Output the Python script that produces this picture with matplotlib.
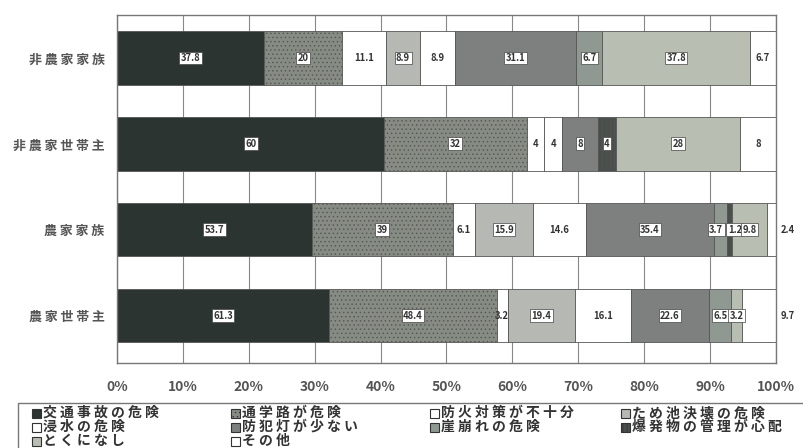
import matplotlib
matplotlib.use("Agg")
import matplotlib.pyplot as plt
from matplotlib.patches import Rectangle
import numpy as np

plt.rcParams['font.family'] = ['Noto Sans CJK JP', 'DejaVu Sans']
plt.rcParams['hatch.color'] = '#a5aaa2'
plt.rcParams['hatch.linewidth'] = 0.5

groups = ['農家世帯主', '農家家族', '非農家世帯主', '非農家家族']
categories = ['交通事故の危険', '通学路が危険', '防火対策が不十分', 'ため池決壊の危険',
              '浸水の危険', '防犯灯が少ない', '崖崩れの危険', '爆発物の管理が心配',
              'とくになし', 'その他']
# multiple-answer percentages per group (same order as categories)
v_nouka_setai = [61.3, 48.4, 3.2, 19.4, 16.1, 22.6, 6.5, 0, 3.2, 9.7]
v_nouka_kazoku = [53.7, 39, 6.1, 15.9, 14.6, 35.4, 3.7, 1.2, 9.8, 2.4]
v_hinouka_setai = [60, 32, 4, 0, 4, 8, 0, 4, 28, 8]
v_hinouka_kazoku = [37.8, 20, 11.1, 8.9, 8.9, 31.1, 6.7, 0, 37.8, 6.7]
values = [v_nouka_setai, v_nouka_kazoku, v_hinouka_setai, v_hinouka_kazoku]
xticklabels = ['0%', '10%', '20%', '30%', '40%', '50%', '60%', '70%', '80%', '90%', '100%']

colors = ['#2b3430', '#868b83', '#ffffff', '#b6b8b3', '#ffffff',
          '#7d807f', '#8f9992', '#4a4f4c', '#b8beb2', '#ffffff']
hatches = [None, '....', None, None, None, None, None, '||||', None, None]
white_cat = {2, 4, 9}


def spaced(s):
    return ' '.join(s)


fig = plt.figure(figsize=(8.04, 4.48), dpi=100)
ax = fig.add_axes([117/804, 1-363/448, 659/804, 348/448])

ypos = np.arange(len(groups))
for gi, vals in enumerate(values):
    vals = np.array(vals, dtype=float)
    total = vals.sum()
    pct = vals / total * 100
    left = 0.0
    for ci, (v, p) in enumerate(zip(vals, pct)):
        if v > 0:
            ax.barh(ypos[gi], p, left=left, height=0.62, color=colors[ci],
                    edgecolor='#555555', linewidth=0.6, zorder=2,
                    hatch=hatches[ci])
            label = f'{v:g}'
            cx = left + p / 2
            if ci == 9 and gi < 2:
                cx = 101.8
            if gi == 1 and ci == 6:
                cx -= 0.7
            if gi == 1 and ci == 7:
                cx += 0.8
            if ci in white_cat:
                ax.text(cx, ypos[gi], label, ha='center', va='center',
                        fontsize=6.8, fontweight='bold', color='#333333', zorder=4)
            else:
                ax.text(cx, ypos[gi], label, ha='center', va='center',
                        fontsize=6.8, fontweight='bold', color='#333333', zorder=4,
                        bbox=dict(boxstyle='square,pad=0.15', fc='white',
                                  ec='#444444', lw=0.5))
        left += p

ax.set_xlim(0, 100)
ax.set_ylim(-0.55, 3.5)
ax.set_xticks(np.arange(0, 101, 10))
ax.set_xticklabels(xticklabels, fontsize=10, fontweight='bold', color='#555555')
ax.set_yticks(ypos)
ax.set_yticklabels([spaced(g) for g in groups], fontsize=9.3,
                   fontweight='bold', color='#555555')
ax.tick_params(length=0, pad=9)
ax.tick_params(axis='x', pad=12)
ax.xaxis.grid(True, color='#888888', linewidth=0.8, zorder=0)
ax.set_axisbelow(True)
for s in ax.spines.values():
    s.set_color('#777777')
    s.set_linewidth(1.0)

# legend drawn manually (frame + markers + labels), 4 columns row-wise
W, H = 804, 448
fig.patches.append(Rectangle((18/W, -0.05), (W + 10 - 18)/W, 0.05 + (H - 403)/H,
                             transform=fig.transFigure, fc='white', ec='#777777',
                             lw=1.0, zorder=1))
col_x = [32, 231, 430, 621]
row_y = [413, 427, 441]
for i, cat in enumerate(categories):
    r, c = divmod(i, 4)
    x0, yc = col_x[c], row_y[r]
    fig.patches.append(Rectangle((x0/W, 1 - (yc + 4.5)/H), 9/W, 9/H,
                                 transform=fig.transFigure, fc=colors[i],
                                 ec='#333333', lw=0.8, hatch=hatches[i], zorder=2))
    fig.text((x0 + 11)/W, 1 - yc/H, spaced(cat), ha='left', va='center',
             fontsize=10, fontweight='bold', color='#333333', zorder=3)

fig.savefig('out.png', dpi=100)
